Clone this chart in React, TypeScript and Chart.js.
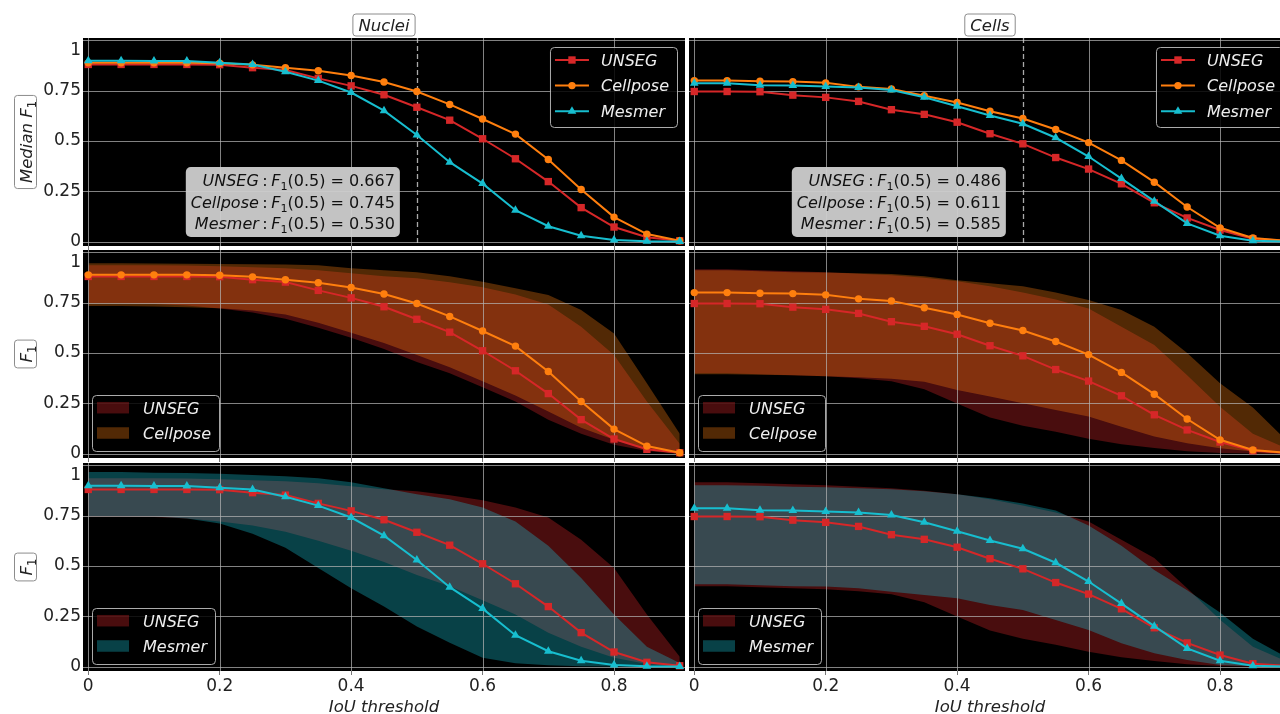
import React, { useEffect, useRef } from 'react';
import { Chart, registerables } from 'chart.js';

Chart.register(...registerables);

// ---------------- data ----------------
const IOU = [0, 0.05, 0.1, 0.15, 0.2, 0.25, 0.3, 0.35, 0.4, 0.45, 0.5, 0.55, 0.6, 0.65, 0.7, 0.75, 0.8, 0.85, 0.9];
const X_TICKS = [0, 0.2, 0.4, 0.6, 0.8];
const Y_TICKS = [0, 0.25, 0.5, 0.75, 1];
const THRESH = 0.5;
const METHODS = ['UNSEG', 'Cellpose', 'Mesmer'];
const ROW_METHODS = [['UNSEG', 'Cellpose', 'Mesmer'], ['UNSEG', 'Cellpose'], ['UNSEG', 'Mesmer']];
const COLUMN_TITLES = ['Nuclei', 'Cells'];
const ROW_Y_TITLES = ['Median F', 'F', 'F'];
const X_TITLE = 'IoU threshold';

// Nuclei medians
const N_UNSEG_MED = [0.879, 0.879, 0.879, 0.879, 0.878, 0.863, 0.851, 0.81, 0.773, 0.729, 0.667, 0.603, 0.511, 0.412, 0.299, 0.17, 0.074, 0.023, 0.006];
const N_CELLPOSE_MED = [0.887, 0.887, 0.887, 0.887, 0.885, 0.877, 0.863, 0.848, 0.824, 0.792, 0.745, 0.681, 0.609, 0.534, 0.408, 0.26, 0.123, 0.039, 0.006];
const N_MESMER_MED = [0.897, 0.897, 0.896, 0.896, 0.888, 0.879, 0.843, 0.799, 0.74, 0.65, 0.53, 0.395, 0.289, 0.157, 0.078, 0.031, 0.01, 0.003, 0.002];
// Nuclei bands
const N_UNSEG_HI = [0.935, 0.935, 0.934, 0.933, 0.93, 0.925, 0.92, 0.91, 0.895, 0.88, 0.87, 0.85, 0.825, 0.79, 0.74, 0.63, 0.49, 0.26, 0.05];
const N_UNSEG_LO = [0.745, 0.745, 0.742, 0.735, 0.72, 0.7, 0.67, 0.625, 0.575, 0.52, 0.455, 0.4, 0.33, 0.26, 0.17, 0.1, 0.045, 0.015, 0.0];
const N_CELLPOSE_HI = [0.944, 0.944, 0.943, 0.942, 0.941, 0.94, 0.938, 0.935, 0.92, 0.91, 0.9, 0.88, 0.853, 0.82, 0.787, 0.713, 0.597, 0.35, 0.1];
const N_CELLPOSE_LO = [0.733, 0.733, 0.73, 0.727, 0.722, 0.71, 0.69, 0.65, 0.6, 0.55, 0.49, 0.43, 0.36, 0.29, 0.21, 0.13, 0.07, 0.025, 0.0];
const N_MESMER_HI = [0.965, 0.965, 0.962, 0.96, 0.957, 0.95, 0.945, 0.935, 0.915, 0.885, 0.855, 0.83, 0.79, 0.72, 0.6, 0.44, 0.26, 0.1, 0.02];
const N_MESMER_LO = [0.748, 0.748, 0.745, 0.735, 0.71, 0.66, 0.59, 0.49, 0.39, 0.3, 0.2, 0.12, 0.045, 0.018, 0.008, 0.004, 0.002, 0.001, 0.0];

// Cells medians
const C_UNSEG_MED = [0.745, 0.745, 0.744, 0.727, 0.716, 0.696, 0.655, 0.632, 0.593, 0.536, 0.486, 0.418, 0.361, 0.288, 0.194, 0.119, 0.059, 0.016, 0.006];
const C_CELLPOSE_MED = [0.799, 0.799, 0.796, 0.794, 0.788, 0.768, 0.758, 0.724, 0.691, 0.647, 0.611, 0.557, 0.492, 0.404, 0.296, 0.173, 0.07, 0.02, 0.006];
const C_MESMER_MED = [0.786, 0.786, 0.776, 0.775, 0.77, 0.765, 0.753, 0.717, 0.672, 0.626, 0.585, 0.516, 0.423, 0.314, 0.202, 0.092, 0.031, 0.006, 0.002];
// Cells bands
const C_UNSEG_HI = [0.915, 0.915, 0.91, 0.905, 0.9, 0.893, 0.885, 0.872, 0.855, 0.83, 0.8, 0.765, 0.72, 0.63, 0.54, 0.39, 0.234, 0.1, 0.03];
const C_UNSEG_LO = [0.4, 0.4, 0.395, 0.39, 0.385, 0.375, 0.36, 0.32, 0.25, 0.18, 0.14, 0.11, 0.075, 0.048, 0.03, 0.014, 0.005, 0.002, 0.0];
const C_CELLPOSE_HI = [0.91, 0.91, 0.905, 0.9, 0.898, 0.895, 0.891, 0.88, 0.86, 0.845, 0.83, 0.8, 0.762, 0.713, 0.63, 0.5, 0.35, 0.23, 0.07];
const C_CELLPOSE_LO = [0.395, 0.395, 0.392, 0.39, 0.385, 0.38, 0.372, 0.358, 0.317, 0.284, 0.251, 0.218, 0.185, 0.135, 0.086, 0.053, 0.028, 0.012, 0.004];
const C_MESMER_HI = [0.9, 0.9, 0.897, 0.893, 0.89, 0.885, 0.88, 0.87, 0.855, 0.835, 0.81, 0.775, 0.7, 0.6, 0.48, 0.38, 0.27, 0.14, 0.05];
const C_MESMER_LO = [0.41, 0.41, 0.405, 0.4, 0.398, 0.39, 0.373, 0.356, 0.34, 0.307, 0.282, 0.233, 0.183, 0.117, 0.068, 0.035, 0.01, 0.004, 0.0];

const TABLE: any = [
  {
    med: { UNSEG: N_UNSEG_MED, Cellpose: N_CELLPOSE_MED, Mesmer: N_MESMER_MED },
    hi: { UNSEG: N_UNSEG_HI, Cellpose: N_CELLPOSE_HI, Mesmer: N_MESMER_HI },
    lo: { UNSEG: N_UNSEG_LO, Cellpose: N_CELLPOSE_LO, Mesmer: N_MESMER_LO },
  },
  {
    med: { UNSEG: C_UNSEG_MED, Cellpose: C_CELLPOSE_MED, Mesmer: C_MESMER_MED },
    hi: { UNSEG: C_UNSEG_HI, Cellpose: C_CELLPOSE_HI, Mesmer: C_MESMER_HI },
    lo: { UNSEG: C_UNSEG_LO, Cellpose: C_CELLPOSE_LO, Mesmer: C_MESMER_LO },
  },
];

// ---------------- styles ----------------
const FONT = '"DejaVu Sans", sans-serif';
const COLORS: any = { UNSEG: '#d62728', Cellpose: '#ff7f0e', Mesmer: '#17becf' };
const FILLS: any = { UNSEG: 'rgba(214,39,40,0.34)', Cellpose: 'rgba(255,127,14,0.32)', Mesmer: 'rgba(23,190,207,0.34)' };
const POINTS: any = { UNSEG: { style: 'rect', r: 5.2 }, Cellpose: { style: 'circle', r: 3.7 }, Mesmer: { style: 'triangle', r: 5 } };
const GRID = 'rgba(180,180,180,0.72)';
const TEXT = '#222222';
const X_MIN = -0.008, X_MAX = 0.908, Y_MIN = -0.02, Y_MAX = 1.01;

const COL_GEOM = [
  { left: 0, width: 686, yAxisW: 83 },
  { left: 685, width: 607, yAxisW: 4 },
];
const ROW_GEOM = [
  { top: 0, height: 250, padTop: 38, xAxisH: 4 },
  { top: 250, height: 212, padTop: 0, xAxisH: 4 },
  { top: 463, height: 260, padTop: 0, xAxisH: 52 },
];

type Seg = { t: string; it?: boolean; sub?: boolean; pad?: number };

function segFont(s: Seg, size: number) {
  const sz = s.sub ? size * 0.7 : size;
  return `${s.it ? 'italic ' : ''}${sz}px ${FONT}`;
}
function segsWidth(ctx: CanvasRenderingContext2D, segs: Seg[], size: number) {
  let w = 0;
  for (const s of segs) {
    ctx.font = segFont(s, size);
    w += ctx.measureText(s.t).width + 2 * (s.pad || 0);
  }
  return w;
}
function drawSegs(ctx: CanvasRenderingContext2D, segs: Seg[], x: number, cy: number, size: number, color: string) {
  ctx.fillStyle = color;
  ctx.textBaseline = 'alphabetic';
  ctx.textAlign = 'left';
  const base = cy + 0.365 * size;
  for (const s of segs) {
    ctx.font = segFont(s, size);
    const p = s.pad || 0;
    ctx.fillText(s.t, x + p, s.sub ? base + 0.25 * size : base);
    x += ctx.measureText(s.t).width + 2 * p;
  }
}
function roundRect(ctx: CanvasRenderingContext2D, x: number, y: number, w: number, h: number, r: number) {
  ctx.beginPath();
  ctx.moveTo(x + r, y);
  ctx.arcTo(x + w, y, x + w, y + h, r);
  ctx.arcTo(x + w, y + h, x, y + h, r);
  ctx.arcTo(x, y + h, x, y, r);
  ctx.arcTo(x, y, x + w, y, r);
  ctx.closePath();
}
function drawMarker(ctx: CanvasRenderingContext2D, m: string, x: number, y: number) {
  const { style, r } = POINTS[m];
  ctx.fillStyle = COLORS[m];
  ctx.beginPath();
  if (style === 'rect') {
    const s = r * Math.SQRT1_2;
    ctx.rect(x - s, y - s, 2 * s, 2 * s);
  } else if (style === 'circle') {
    ctx.arc(x, y, r, 0, Math.PI * 2);
  } else {
    ctx.moveTo(x, y - r);
    ctx.lineTo(x + 0.866 * r, y + 0.5 * r);
    ctx.lineTo(x - 0.866 * r, y + 0.5 * r);
    ctx.closePath();
  }
  ctx.fill();
}
function drawBoxedText(ctx: CanvasRenderingContext2D, segs: Seg[], cx: number, cy: number, size: number, rotate: boolean) {
  ctx.save();
  ctx.translate(cx, cy);
  if (rotate) ctx.rotate(-Math.PI / 2);
  const w = segsWidth(ctx, segs, size);
  const bw = w + 11, bh = 22;
  roundRect(ctx, -bw / 2, -bh / 2, bw, bh, 3);
  ctx.fillStyle = '#ffffff';
  ctx.fill();
  ctx.strokeStyle = '#8c8c8c';
  ctx.lineWidth = 1;
  ctx.stroke();
  drawSegs(ctx, segs, -w / 2, 0, size, TEXT);
  ctx.restore();
}

function makeOverlay(row: number, col: number) {
  const methods = ROW_METHODS[row];
  const set = TABLE[col];
  return {
    id: 'overlay',
    beforeDraw(chart: any) {
      const { ctx, chartArea: a } = chart;
      ctx.save();
      ctx.fillStyle = '#000000';
      ctx.fillRect(a.left, a.top, a.right - a.left, a.bottom - a.top);
      ctx.restore();
    },
    beforeDatasetsDraw(chart: any) {
      const { ctx, chartArea: a, scales } = chart;
      ctx.save();
      ctx.strokeStyle = GRID;
      ctx.lineWidth = 1;
      for (const v of X_TICKS) {
        const px = Math.round(scales.x.getPixelForValue(v)) + 0.5;
        ctx.beginPath();
        ctx.moveTo(px, a.top);
        ctx.lineTo(px, a.bottom);
        ctx.stroke();
      }
      for (const v of Y_TICKS) {
        const py = Math.round(scales.y.getPixelForValue(v)) + 0.5;
        ctx.beginPath();
        ctx.moveTo(a.left, py);
        ctx.lineTo(a.right, py);
        ctx.stroke();
      }
      if (row === 0) {
        const px = Math.round(scales.x.getPixelForValue(THRESH)) + 0.5;
        ctx.strokeStyle = 'rgba(200,200,200,0.85)';
        ctx.lineWidth = 1.3;
        ctx.setLineDash([5, 3]);
        ctx.beginPath();
        ctx.moveTo(px, a.top);
        ctx.lineTo(px, a.bottom);
        ctx.stroke();
      }
      ctx.restore();
    },
    afterDraw(chart: any) {
      const { ctx, chartArea: a, scales } = chart;
      const size = 16;
      ctx.save();
      // column title
      if (row === 0) {
        drawBoxedText(ctx, [{ t: COLUMN_TITLES[col], it: true }], (a.left + a.right) / 2, 25, 16.5, false);
      }
      // y title
      if (col === 0) {
        drawBoxedText(ctx, [{ t: ROW_Y_TITLES[row], it: true }, { t: '1', sub: true }], 25.5, (a.top + a.bottom) / 2, 16.5, true);
      }
      if (row === 0) {
        // annotation box
        const k = IOU.indexOf(THRESH);
        const lines: Seg[][] = METHODS.map((m) => [
          { t: m, it: true },
          { t: ':', pad: 3.5 },
          { t: 'F', it: true },
          { t: '1', sub: true },
          { t: `(${THRESH}) = ${set.med[m][k].toFixed(3)}` },
        ]);
        const widths = lines.map((l) => segsWidth(ctx, l, size));
        const maxW = Math.max(...widths);
        const right = scales.x.getPixelForValue(THRESH) - 17;
        const bottom = scales.y.getPixelForValue(0) - 5;
        const bw = maxW + 10, bh = 70;
        roundRect(ctx, right - bw, bottom - bh, bw, bh, 5);
        ctx.fillStyle = 'rgba(205,205,205,0.95)';
        ctx.fill();
        lines.forEach((l, i) => drawSegs(ctx, l, right - 5 - widths[i], bottom - bh + 13.5 + i * 21.5, size, '#111111'));

        // legend (lines + markers) top right
        ctx.font = `italic ${size}px ${FONT}`;
        const tw = Math.max(...methods.map((m) => ctx.measureText(m).width));
        const lw = 51 + tw + 8, lh = 80;
        const lx = a.right - 8 - lw, ly = a.top + 9;
        roundRect(ctx, lx + 0.5, ly + 0.5, lw, lh, 4);
        ctx.fillStyle = 'rgba(0,0,0,0.85)';
        ctx.fill();
        ctx.strokeStyle = 'rgba(190,190,190,0.9)';
        ctx.lineWidth = 1;
        ctx.stroke();
        methods.forEach((m, i) => {
          const cy = ly + 13 + i * 25.6;
          ctx.strokeStyle = COLORS[m];
          ctx.lineWidth = 2;
          ctx.beginPath();
          ctx.moveTo(lx + 5, cy);
          ctx.lineTo(lx + 39, cy);
          ctx.stroke();
          drawMarker(ctx, m, lx + 22, cy);
          drawSegs(ctx, [{ t: m, it: true }], lx + 51, cy, size, '#eeeeee');
        });
      } else {
        // legend (bands) bottom left
        ctx.font = `italic ${size}px ${FONT}`;
        const tw = Math.max(...methods.map((m) => ctx.measureText(m).width));
        const lw = 51 + tw + 8, lh = 56;
        const lx = a.left + 9, ly = a.bottom - 7 - lh;
        roundRect(ctx, lx + 0.5, ly + 0.5, lw, lh, 4);
        ctx.fillStyle = 'rgba(0,0,0,0.85)';
        ctx.fill();
        ctx.strokeStyle = 'rgba(190,190,190,0.9)';
        ctx.lineWidth = 1;
        ctx.stroke();
        methods.forEach((m, i) => {
          const cy = ly + 12.7 + i * 25.3;
          ctx.fillStyle = FILLS[m];
          ctx.fillRect(lx + 5, cy - 5.75, 32, 11.5);
          drawSegs(ctx, [{ t: m, it: true }], lx + 51, cy, size, '#eeeeee');
        });
      }
      ctx.restore();
    },
  };
}

function makeConfig(row: number, col: number): any {
  const methods = ROW_METHODS[row];
  const set = TABLE[col];
  const datasets: any[] = [];
  methods.forEach((m, i) => {
    datasets.push({
      label: m,
      data: IOU.map((x, k) => ({ x, y: set.med[m][k] })),
      borderColor: COLORS[m],
      backgroundColor: COLORS[m],
      borderWidth: 2,
      pointStyle: POINTS[m].style,
      pointRadius: POINTS[m].r,
      pointBackgroundColor: COLORS[m],
      pointBorderColor: COLORS[m],
      pointBorderWidth: 0,
      fill: false,
      tension: 0,
      order: 5 - i,
    });
  });
  if (row > 0) {
    methods.forEach((m, i) => {
      datasets.push({
        label: m + ' hi',
        data: IOU.map((x, k) => ({ x, y: set.hi[m][k] })),
        borderColor: 'rgba(0,0,0,0)',
        borderWidth: 0,
        pointRadius: 0,
        backgroundColor: FILLS[m],
        fill: '+1',
        tension: 0,
        order: 20 - 2 * i,
      });
      datasets.push({
        label: m + ' lo',
        data: IOU.map((x, k) => ({ x, y: set.lo[m][k] })),
        borderColor: 'rgba(0,0,0,0)',
        borderWidth: 0,
        pointRadius: 0,
        fill: false,
        tension: 0,
        order: 19 - 2 * i,
      });
    });
  }
  const cg = COL_GEOM[col], rg = ROW_GEOM[row];
  const tickFont = { family: FONT, size: 17 };
  return {
    type: 'line',
    data: { datasets },
    options: {
      animation: false,
      responsive: false,
      devicePixelRatio: 1,
      events: [],
      layout: { autoPadding: false, padding: { top: rg.padTop, left: 0, right: 1, bottom: 0 } },
      plugins: {
        legend: { display: false },
        tooltip: { enabled: false },
        title: { display: false },
        filler: { drawTime: 'beforeDatasetsDraw', propagate: false },
      },
      scales: {
        x: {
          type: 'linear',
          min: X_MIN,
          max: X_MAX,
          afterBuildTicks: (s: any) => {
            s.ticks = X_TICKS.map((v) => ({ value: v }));
          },
          afterFit: (s: any) => {
            s.height = rg.xAxisH;
            s.paddingLeft = 0;
            s.paddingRight = 0;
          },
          grid: { drawOnChartArea: false, drawTicks: true, tickLength: 4, color: '#777777' },
          border: { display: false },
          ticks: {
            display: row === 2,
            autoSkip: false,
            maxRotation: 0,
            padding: 1,
            font: tickFont,
            color: TEXT,
            callback: (v: any) => String(v),
          },
          title: {
            display: row === 2,
            text: X_TITLE,
            color: TEXT,
            font: { family: FONT, size: 16.5, style: 'italic' },
            padding: { top: 0, bottom: 5 },
          },
        },
        y: {
          type: 'linear',
          min: Y_MIN,
          max: Y_MAX,
          afterBuildTicks: (s: any) => {
            s.ticks = Y_TICKS.map((v) => ({ value: v }));
          },
          afterFit: (s: any) => {
            s.width = cg.yAxisW;
            s.paddingTop = 0;
            s.paddingBottom = 0;
          },
          grid: { drawOnChartArea: false, drawTicks: false },
          border: { display: false },
          ticks: {
            display: col === 0,
            autoSkip: false,
            padding: 2,
            font: tickFont,
            color: TEXT,
            callback: (v: any) => (v === 1 ? ['', '1'] : String(v)),
          },
        },
      },
    },
    plugins: [makeOverlay(row, col)],
  };
}

function Panel({ row, col }: { row: number; col: number }) {
  const ref = useRef<HTMLCanvasElement>(null);
  useEffect(() => {
    const chart = new Chart(ref.current as HTMLCanvasElement, makeConfig(row, col));
    return () => chart.destroy();
  }, [row, col]);
  const cg = COL_GEOM[col], rg = ROW_GEOM[row];
  return (
    <canvas
      ref={ref}
      width={cg.width}
      height={rg.height}
      style={{ position: 'absolute', left: cg.left, top: rg.top, width: cg.width, height: rg.height }}
    />
  );
}

export default function App() {
  const panels: { row: number; col: number }[] = [];
  for (let r = 0; r < 3; r++) for (let c = 0; c < 2; c++) panels.push({ row: r, col: c });
  return (
    <div
      style={{
        position: 'absolute',
        left: 0,
        top: 0,
        width: 1280,
        height: 714,
        overflow: 'hidden',
        background: '#ffffff',
      }}
    >
      {panels.map((p) => (
        <Panel key={`${p.row}-${p.col}`} row={p.row} col={p.col} />
      ))}
    </div>
  );
}
